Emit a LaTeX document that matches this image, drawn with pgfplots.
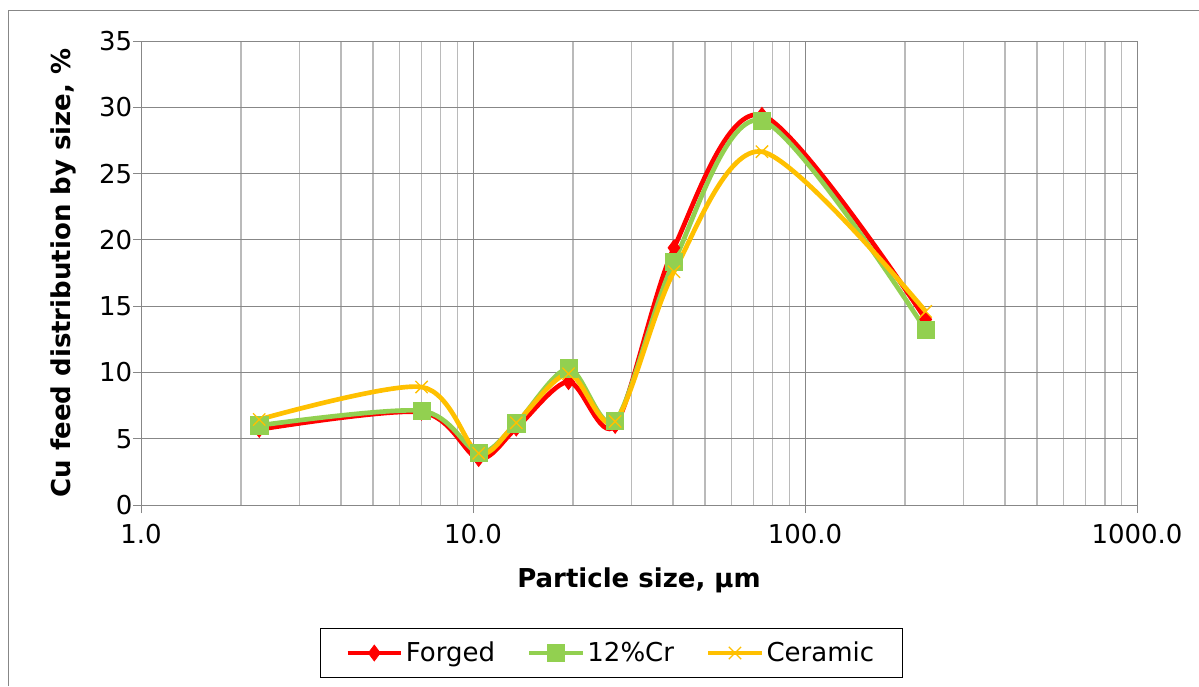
\documentclass[border=0pt]{standalone}
\usepackage{pgfplots}
\pgfplotsset{compat=1.18}
\usepackage{fontspec}
\setmainfont{DejaVu Sans}
\usetikzlibrary{plotmarks}

\definecolor{cForged}{HTML}{FF0000}
\definecolor{cCr}{HTML}{92D050}
\definecolor{cCer}{HTML}{FFC000}
\definecolor{gmajor}{HTML}{878787}
\definecolor{gminor}{HTML}{BABABA}

\begin{document}
\begin{tikzpicture}
% picture frame, 1 px = 0.75 pt
\useasboundingbox (0,0) rectangle (899.25pt,514.5pt);
\draw[gmajor, line width=0.75pt] (6pt,0) -- (6pt,506.25pt) -- (899.25pt,506.25pt);

\begin{axis}[
	at={(105.75pt,135.75pt)}, anchor=south west,
	scale only axis, width=747pt, height=348pt,
	xmode=log, log basis x=10,
	xmin=1, xmax=1000, ymin=0, ymax=35,
	xtick={1,10,100,1000},
	xticklabels={1.0,10.0,100.0,1000.0},
	ytick={0,5,...,35},
	minor xtick={2,3,4,5,6,7,8,9,20,30,40,50,60,70,80,90,200,300,400,500,600,700,800,900},
	/pgf/number format/assume math mode=true,
	tick label style={font=\fontsize{19.5}{22}\selectfont, black},
	xticklabel style={yshift=-5pt},
	yticklabel style={xshift=3pt},
	grid=both,
	major grid style={gmajor, line width=0.75pt},
	minor grid style={gminor, line width=1pt},
	axis line style={gmajor, line width=0.75pt},
	major tick length=6pt, minor tick length=0pt,
	tick align=outside, tick pos=left,
	major tick style={gmajor, line width=0.75pt},
	xlabel={\textbf{Particle size, µm}},
	ylabel={\textbf{Cu feed distribution by size, \%}},
	label style={font=\fontsize{19.5}{22}\selectfont},
	xlabel style={at={(axis description cs:0.5,-0.162)}, anchor=center},
	ylabel style={at={(axis description cs:-0.078,0.5)}, anchor=center},
	legend columns=3,
	legend style={at={(axis description cs:0.472,-0.319)}, anchor=center,
		draw=black, line width=0.75pt, font=\fontsize{19.5}{21}\selectfont,
		inner xsep=19pt, inner ysep=8pt,
		/tikz/every even column/.append style={column sep=22pt}},
	legend image code/.code={
		\draw[#1, mark repeat=2, mark phase=2] plot coordinates {(0cm,0cm) (0.7cm,0cm) (1.4cm,0cm)};},
	smooth, tension=0.5,
]
\addplot[cForged, line width=3.5pt, mark=diamond*, mark size=6pt,
	mark options={solid, line width=0.5pt, fill=cForged}] coordinates {
	(2.27,5.7) (7.0,7.0) (10.4,3.5) (13.5,5.8) (19.4,9.3)
	(26.8,6.0) (40.3,19.4) (74.2,29.4) (231,14.0)};
\addlegendentry{Forged}
\addplot[cCr, line width=3.5pt, mark=square*, mark size=6.5pt,
	mark options={solid, line width=0.5pt, fill=cCr}] coordinates {
	(2.27,6.0) (7.0,7.1) (10.4,3.95) (13.5,6.15) (19.4,10.3)
	(26.8,6.35) (40.3,18.35) (74.2,29.0) (231,13.2)};
\addlegendentry{12\%Cr}
\addplot[cCer, line width=3.5pt, mark=x, mark size=6.5pt,
	mark options={solid, line width=1pt}] coordinates {
	(2.27,6.45) (7.0,8.9) (10.4,3.9) (13.5,6.2) (19.4,9.9)
	(26.8,6.3) (40.3,17.6) (74.2,26.65) (231,14.6)};
\addlegendentry{Ceramic}
\end{axis}
\end{tikzpicture}
\end{document}
